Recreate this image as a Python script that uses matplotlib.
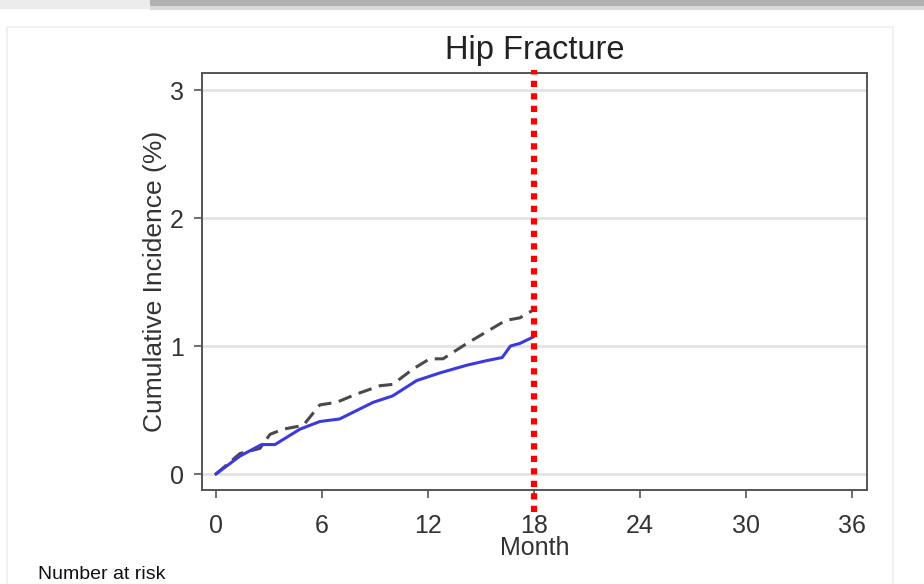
import matplotlib
matplotlib.use("Agg")
import matplotlib.pyplot as plt
from matplotlib.patches import Rectangle

# cumulative incidence (%)
month_a = [0, 1.36, 2.58, 3.34, 4.75, 5.88, 7.0, 8.9, 10.0, 11.36, 12.68,
           14.2, 15.3, 16.2, 16.67, 17.2, 17.95]
inc_a = [0, 0.14, 0.23, 0.23, 0.35, 0.41, 0.43, 0.56, 0.61, 0.73, 0.79,
         0.85, 0.885, 0.91, 1.0, 1.02, 1.07]

month_b = [0, 1.36, 2.49, 3.06, 3.8, 4.94, 5.88, 6.83, 7.96, 9.3, 10.0,
           11.15, 12.1, 12.85, 14.2, 15.3, 16.4, 17.2, 17.95]
inc_b = [0, 0.16, 0.2, 0.31, 0.35, 0.38, 0.54, 0.56, 0.625, 0.69, 0.70,
         0.82, 0.9, 0.9, 1.02, 1.11, 1.2, 1.22, 1.28]

xticks = [0, 6, 12, 18, 24, 30, 36]
yticks = [0, 1, 2, 3]
cutoff = 18

plt.rcParams['font.family'] = ['Liberation Sans', 'DejaVu Sans']

fig = plt.figure(figsize=(9.24, 5.84), dpi=100)
fig.patch.set_facecolor('white')

# slide decoration: grey bar on top and panel border
fig.add_artist(Rectangle((0, 1 - 9/584), 150/924, 9/584, transform=fig.transFigure,
                         color='#ececec', lw=0))
fig.add_artist(Rectangle((150/924, 1 - 6/584), 1, 6/584, transform=fig.transFigure,
                         color='#b0b0b0', lw=0))
fig.add_artist(Rectangle((150/924, 1 - 10/584), 1, 4/584, transform=fig.transFigure,
                         color='#d8d8d8', lw=0))
fig.add_artist(Rectangle((7/924, -0.1), 886/924, 1 - 27/584 + 0.1, transform=fig.transFigure,
                         fill=False, edgecolor='#eeeeee', lw=1.2))

ax = fig.add_axes([202/924, 1 - 490/584, 665/924, 417/584])
for y in yticks:
    ax.axhline(y, color='#e3e3e3', lw=2, zorder=0)

ax.plot(month_b, inc_b, color='#4a4a4a', lw=2.2, dashes=(4.5, 2.5), zorder=3)
ax.plot(month_a, inc_a, color='#3a3ae0', lw=2.2, zorder=4)

ax.axvline(cutoff, ymin=-0.053, ymax=1.008, color='#ff0000', lw=4.5,
           linestyle=(0, (1.0, 1.0)), clip_on=False, zorder=5)

ax.set_xlim(-0.79, 36.85)
ax.set_ylim(-0.125, 3.133)
ax.set_xticks(xticks)
ax.set_yticks(yticks)
ax.tick_params(axis='both', labelsize=18, colors='#555555', labelcolor='#333333',
               length=6, width=1.2)
ax.tick_params(axis='x', pad=11)
ax.tick_params(axis='y', pad=7)
for s in ax.spines.values():
    s.set_color('#555555')
    s.set_linewidth(1.4)

ax.set_title('Hip Fracture', fontsize=23.5, color='#222222', pad=10)
ax.set_xlabel('Month', fontsize=18, color='#333333', labelpad=-1)
ax.set_ylabel('Cumulative Incidence (%)', fontsize=19, color='#333333', labelpad=2)

fig.text(38/924, 1 - 583/584, 'Number at risk', fontsize=14, color='#111111',
         va='bottom', ha='left')

fig.savefig('out.png', dpi=100)
